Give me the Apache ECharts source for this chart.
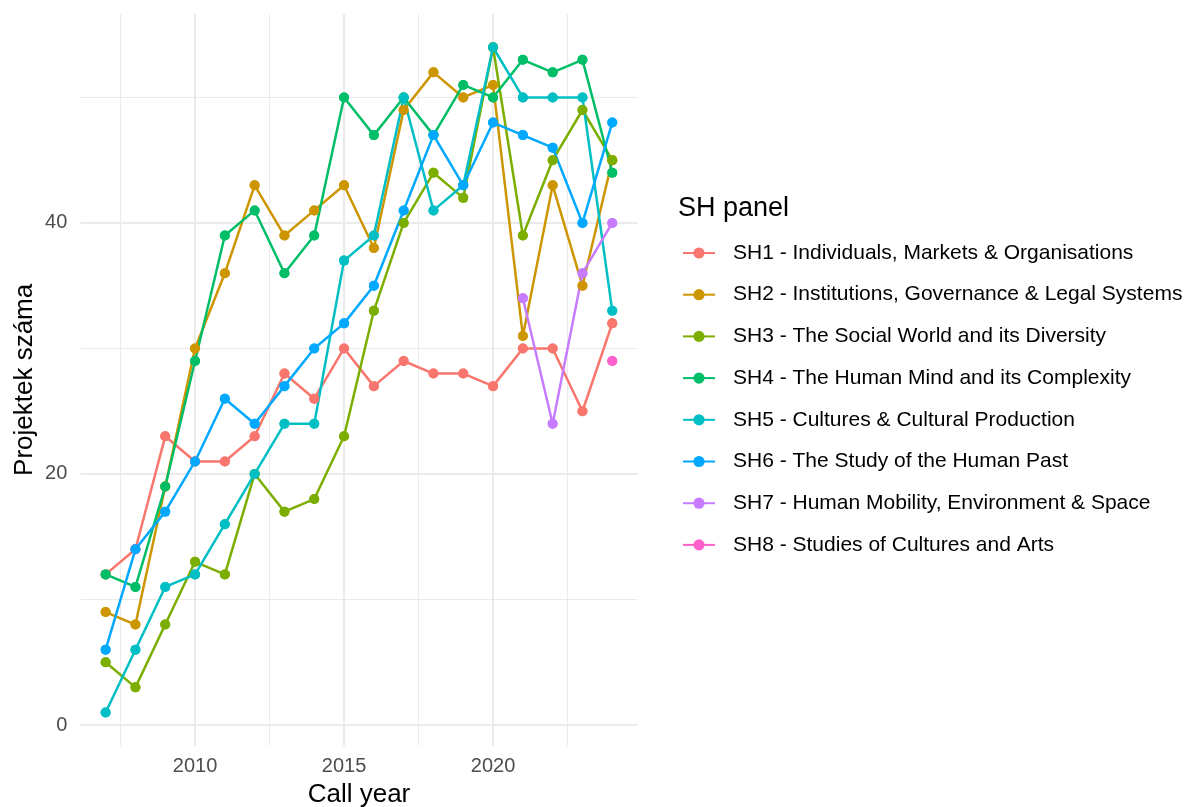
<!DOCTYPE html>
<html>
<head>
<meta charset="utf-8">
<script src="https://cdn.jsdelivr.net/npm/echarts@6/dist/echarts.min.js"></script>
<style>
    html, body { margin: 0; padding: 0; background: #fff; }
    #chart { width: 1189px; height: 807px; }
</style>
</head>
<body>
<div id="chart"></div>
<script>
    // call years on the x axis
    const years = [2007, 2008, 2009, 2010, 2011, 2012, 2013, 2014, 2015,
                   2016, 2017, 2018, 2019, 2020, 2021, 2022, 2023, 2024];

    const panelNames = [
        'SH1 - Individuals, Markets & Organisations',
        'SH2 - Institutions, Governance & Legal Systems',
        'SH3 - The Social World and its Diversity',
        'SH4 - The Human Mind and its Complexity',
        'SH5 - Cultures & Cultural Production',
        'SH6 - The Study of the Human Past',
        'SH7 - Human Mobility, Environment & Space',
        'SH8 - Studies of Cultures and Arts'
    ];

    // projects per panel, one value per year (null = panel did not exist)
    const sh1 = [12, 14, 23, 21, 21, 23, 28, 26, 30, 27, 29, 28, 28, 27, 30, 30, 25, 32];
    const sh2 = [9, 8, 19, 30, 36, 43, 39, 41, 43, 38, 49, 52, 50, 51, 31, 43, 35, 45];
    const sh3 = [5, 3, 8, 13, 12, 20, 17, 18, 23, 33, 40, 44, 42, 54, 39, 45, 49, 45];
    const sh4 = [12, 11, 19, 29, 39, 41, 36, 39, 50, 47, 50, 47, 51, 50, 53, 52, 53, 44];
    const sh5 = [1, 6, 11, 12, 16, 20, 24, 24, 37, 39, 50, 41, 43, 54, 50, 50, 50, 33];
    const sh6 = [6, 14, 17, 21, 26, 24, 27, 30, 32, 35, 41, 47, 43, 48, 47, 46, 40, 48];
    const sh7 = [null, null, null, null, null, null, null, null, null,
                 null, null, null, null, null, 34, 24, 36, 40];
    const sh8 = [null, null, null, null, null, null, null, null, null,
                 null, null, null, null, null, null, null, null, 29];

    const xTicks = [2010, 2015, 2020];
    const yTicks = [0, 20, 40];
    const xMinorGrid = [2007.5, 2012.5, 2017.5, 2022.5];
    const yMinorGrid = [10, 30, 50];

    const panelValues = [sh1, sh2, sh3, sh4, sh5, sh6, sh7, sh8];
    const colors = ['#F8766D', '#CD9600', '#7CAE00', '#00BE67', '#00BFC4', '#00A9FF', '#C77CFF', '#FF61CC'];

    const fontFamily = '"Liberation Sans", Arial, sans-serif';

    function pairs(values) {
        return years.map((y, i) => [y, values[i] === null ? '-' : values[i]]);
    }

    const chart = echarts.init(document.getElementById('chart'));

    const gridLine = (w) => ({ color: '#EBEBEB', width: w, type: 'solid' });

    const series = [];
    // grid lines as mark lines so they sit on the axes' own scales
    series.push({
        type: 'line',
        data: [],
        silent: true,
        markLine: {
            silent: true,
            z: 0,
            symbol: ['none', 'none'],
            label: { show: false },
            animation: false,
            data: [
                ...xMinorGrid.map(v => ({ xAxis: v, lineStyle: gridLine(1) })),
                ...yMinorGrid.map(v => ({ yAxis: v, lineStyle: gridLine(1) })),
                ...xTicks.map(v => ({ xAxis: v, lineStyle: gridLine(2) })),
                ...yTicks.map(v => ({ yAxis: v, lineStyle: gridLine(2) }))
            ]
        }
    });

    panelNames.forEach((name, i) => {
        series.push({
            name: name,
            type: 'line',
            data: pairs(panelValues[i]),
            symbol: 'circle',
            symbolSize: 10,
            showSymbol: true,
            connectNulls: false,
            z: 2,
            itemStyle: { color: colors[i] },
            lineStyle: { color: colors[i], width: 2.5 }
        });
    });
    // points drawn over all lines, as in the original
    panelNames.forEach((name, i) => {
        series.push({
            name: name,
            type: 'scatter',
            data: pairs(panelValues[i]),
            symbol: 'circle',
            symbolSize: 10,
            z: 3,
            itemStyle: { color: colors[i], opacity: 1 }
        });
    });

    chart.setOption({
        backgroundColor: '#ffffff',
        animation: false,
        textStyle: { fontFamily: fontFamily },
        title: {
            text: 'SH panel',
            left: 673,
            top: 190,
            textStyle: { fontFamily: fontFamily, fontSize: 27, fontWeight: 'normal', color: '#000' }
        },
        legend: {
            orient: 'vertical',
            left: 682,
            top: 242.5,
            padding: 0,
            data: panelNames,
            itemWidth: 32,
            itemHeight: 14,
            itemGap: 20.7,
            selectedMode: false,
            textStyle: { fontFamily: fontFamily, fontSize: 21, color: '#000', padding: [0, 0, 0, 13] }
        },
        grid: {
            left: 80.3,
            right: 551.4,
            top: 14,
            bottom: 61.3,
            containLabel: false,
            outerBoundsMode: 'none'
        },
        xAxis: {
            type: 'value',
            min: 2006.15,
            max: 2024.85,
            name: 'Call year',
            nameLocation: 'middle',
            nameGap: 36,
            nameTextStyle: { fontFamily: fontFamily, fontSize: 26, color: '#000' },
            axisLine: { show: false },
            axisTick: { show: false },
            splitLine: { show: false },
            axisLabel: {
                customValues: xTicks,
                formatter: (v) => String(v),
                margin: 11,
                fontFamily: fontFamily,
                fontSize: 20,
                color: '#4D4D4D'
            }
        },
        yAxis: {
            type: 'value',
            min: -1.65,
            max: 56.65,
            name: 'Projektek száma',
            nameLocation: 'middle',
            nameGap: 42,
            nameTextStyle: { fontFamily: fontFamily, fontSize: 26, color: '#000' },
            axisLine: { show: false },
            axisTick: { show: false },
            splitLine: { show: false },
            axisLabel: {
                customValues: yTicks,
                margin: 13,
                fontFamily: fontFamily,
                fontSize: 20,
                color: '#4D4D4D'
            }
        },
        series: series
    });
</script>
</body>
</html>
